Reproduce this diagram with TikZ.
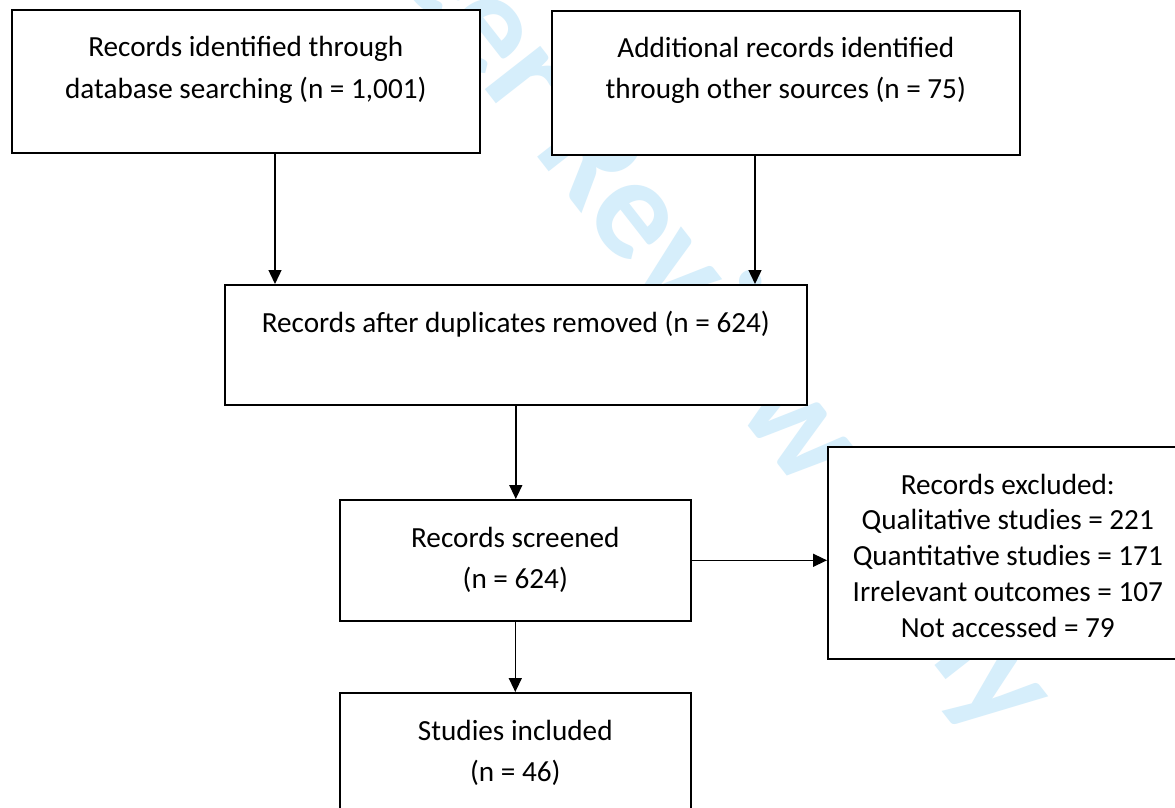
\documentclass[tikz,border=0pt]{standalone}
\usepackage{fontspec}
\setmainfont{Carlito}
\usetikzlibrary{arrows.meta}
\definecolor{wmblue}{RGB}{214,238,251}
\begin{document}
\begin{tikzpicture}[x=1pt,y=-1pt,
  box/.style={draw=black, line width=1.6pt, fill=white, inner sep=0pt, anchor=north west},
  txt/.style={inner sep=0pt, anchor=base, font=\fontsize{29.2}{41}\selectfont},
  txtE/.style={inner sep=0pt, anchor=base, font=\fontsize{29.2}{35.75}\selectfont},
  arr/.style={line width=1.4pt, -{Triangle[length=14pt,width=13pt]}},
  wmark/.style={inner sep=0pt, anchor=base east, rotate=-52, text=wmblue,
    font=\fontsize{145}{150}\selectfont\bfseries}]
\useasboundingbox (0,0) rectangle (1175,808);
\fill[white] (0,0) rectangle (1175,808);
% watermark
\node[wmark] (W) at (994,741) {For Peer Review Only};
% boxes
\node[box, minimum width=468pt, minimum height=143pt] (A) at (11,9) {};
\node[box, minimum width=468pt, minimum height=144pt] (B) at (551,10) {};
\node[box, minimum width=582pt, minimum height=120pt] (C) at (224,284) {};
\node[box, minimum width=351pt, minimum height=121pt] (D) at (339,499) {};
\node[box, minimum width=360pt, minimum height=212pt] (E) at (827,446) {};
\node[box, minimum width=351pt, minimum height=120pt] (F) at (339,692) {};
% texts
\node[txt] (At) at ([yshift=-48pt]A.north) {\begin{tabular}[t]{@{}c@{}}Records identified through\\database searching (n = 1,001)\end{tabular}};
\node[txt] (Bt) at ([yshift=-48pt]B.north) {\begin{tabular}[t]{@{}c@{}}Additional records identified\\through other sources (n = 75)\end{tabular}};
\node[txt] (Ct) at ([yshift=-48pt]C.north) {Records after duplicates removed (n = 624)};
\node[txt] (Dt) at ([yshift=-48pt]D.north) {\begin{tabular}[t]{@{}c@{}}Records screened\\(n = 624)\end{tabular}};
\node[txtE] (Et) at ([yshift=-48pt]E.north) {\begin{tabular}[t]{@{}c@{}}Records excluded:\\Qualitative studies = 221\\Quantitative studies = 171\\Irrelevant outcomes = 107\\Not accessed = 79\end{tabular}};
\node[txt] (Ft) at ([yshift=-48pt]F.north) {\begin{tabular}[t]{@{}c@{}}Studies included\\(n = 46)\end{tabular}};
% connectors
\coordinate (ax) at (275,0);
\coordinate (bx) at (755,0);
\draw[arr] (A.south -| ax) -- (C.north -| ax);
\draw[arr] (B.south -| bx) -- (C.north -| bx);
\draw[arr] (C.south) -- (C.south |- D.north);
\draw[arr] (D.east) -- (D.east -| E.west);
\draw[arr] (D.south) -- (D.south |- F.north);
\end{tikzpicture}
\end{document}
